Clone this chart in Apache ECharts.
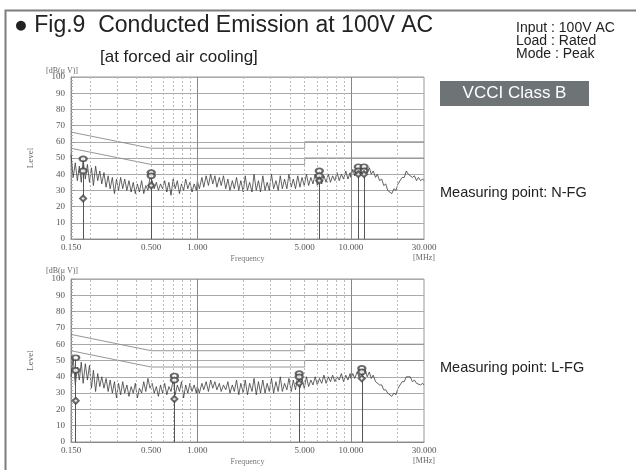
<!DOCTYPE html>
<html>
<head>
<meta charset="utf-8">
<script src="https://cdn.jsdelivr.net/npm/echarts@6/dist/echarts.min.js"></script>
<style>
html, body { margin: 0; padding: 0; background: #fff; }
#main { width: 636px; height: 470px; }
</style>
</head>
<body>
<div id="main"></div>
<script>
// sample frequencies [MHz]
var freqs = [
    0.150, 0.155, 0.160, 0.165, 0.170, 0.175, 0.180, 0.186, 0.192, 0.198,
    0.204, 0.210, 0.217, 0.224, 0.231, 0.238, 0.246, 0.254, 0.262, 0.270,
    0.279, 0.288, 0.297, 0.306, 0.316, 0.326, 0.336, 0.347, 0.358, 0.370,
    0.382, 0.394, 0.406, 0.419, 0.433, 0.447, 0.461, 0.476, 0.491, 0.507,
    0.523, 0.540, 0.557, 0.575, 0.593, 0.612, 0.632, 0.652, 0.673, 0.695,
    0.717, 0.740, 0.764, 0.788, 0.813, 0.839, 0.866, 0.894, 0.923, 0.953,
    0.984,
    1.00, 1.03, 1.07, 1.10, 1.14, 1.18, 1.22, 1.26, 1.30, 1.34,
    1.39, 1.43, 1.48, 1.53, 1.58, 1.63, 1.69, 1.74, 1.80, 1.86,
    1.92, 1.99, 2.05, 2.12, 2.19, 2.27, 2.34, 2.42, 2.50, 2.58,
    2.67, 2.76, 2.85, 2.94, 3.04, 3.14, 3.25, 3.36, 3.47, 3.58,
    3.70, 3.83, 3.95, 4.09, 4.22, 4.36, 4.51, 4.66, 4.81, 4.97,
    5.14, 5.31, 5.49, 5.67, 5.86, 6.05, 6.25, 6.46, 6.68, 6.90,
    7.13, 7.37, 7.61, 7.87, 8.13, 8.40, 8.68, 8.97, 9.27, 9.58,
    9.90,
    10.0, 10.3, 10.6, 11.0, 11.3, 11.7, 12.0, 12.4, 12.8, 13.2,
    13.6, 14.0, 14.5, 14.9, 15.4, 15.9, 16.4, 16.9, 17.4, 17.9,
    18.5, 19.1, 19.7, 20.3, 20.9, 21.6, 22.3, 23.0, 23.7, 24.4,
    25.2, 26.0, 26.8, 27.6, 28.5, 29.4, 30.0
];

// measured level N-FG [dB(uV)]
var levelNFG = [
    52, 38, 47, 36, 45, 35, 49, 37, 46, 35,
    44, 33, 45, 36, 42, 34, 41, 32, 39, 31,
    38, 28, 37, 30, 38, 31, 37, 30, 36, 29,
    35, 28, 34, 29, 36, 28, 33, 30, 38, 36,
    31, 35, 30, 34, 31, 36, 29, 35, 27, 37,
    31, 36, 28, 34, 30, 37, 31, 35, 29, 34,
    30,
    36, 31, 38, 32, 39, 33, 40, 34, 39, 32,
    38, 33, 39, 31, 37, 30, 36, 31, 38, 30,
    36, 29, 39, 30, 35, 29, 40, 30, 36, 29,
    39, 30, 35, 30, 40, 31, 36, 30, 39, 31,
    37, 31, 40, 32, 37, 31, 39, 32, 38, 33,
    40, 33, 38, 34, 40, 33, 41, 34, 39, 35,
    40, 35, 39, 36, 41, 36, 40, 37, 42, 37,
    41,
    38, 43, 39, 44, 39, 44, 40, 45, 41, 44,
    40, 42, 38, 40, 36, 37, 33, 34, 30, 31,
    28, 31, 30, 34, 34, 38, 38, 42, 40, 41,
    38, 39, 36, 38, 36, 37, 36
];

// measured level L-FG [dB(uV)]
var levelLFG = [
    40, 52, 35, 46, 38, 49, 36, 48, 38, 47,
    33, 44, 31, 42, 34, 40, 33, 39, 31, 38,
    30, 37, 27, 36, 29, 37, 30, 35, 28, 34,
    30, 36, 27, 33, 30, 37, 31, 39, 33, 36,
    30, 34, 28, 35, 30, 36, 29, 34, 31, 38,
    29, 35, 31, 37, 27, 35, 30, 36, 31, 35,
    30,
    34, 30, 36, 32, 37, 31, 38, 33, 37, 32,
    36, 31, 35, 32, 37, 30, 35, 31, 38, 29,
    36, 30, 38, 29, 36, 31, 39, 29, 37, 30,
    38, 30, 36, 31, 39, 30, 37, 31, 40, 31,
    36, 32, 39, 31, 38, 32, 41, 33, 39, 33,
    40, 34, 38, 35, 40, 35, 39, 36, 41, 36,
    40, 37, 41, 37, 40, 38, 42, 37, 41, 38,
    42,
    39, 42, 39, 43, 40, 44, 41, 44, 40, 43,
    39, 41, 37, 38, 35, 35, 32, 32, 30, 29,
    28, 30, 29, 33, 33, 37, 37, 40, 39, 40,
    37, 38, 36, 37, 35, 36, 35
];

// VCCI Class B limits
var limitFreq = [0.15, 0.5, 5, 5, 30];
var limitQP = [66, 56, 56, 60, 60];
var limitAV = [56, 46, 46, 50, 50];

// marker readings N-FG
var markFreqN = [0.180, 0.500, 6.23, 11.2, 12.2];
var markPkN = [49.5, 41, 42, 44.6, 44.6];
var markQpN = [42, 39, 39, 42, 42];
var markAvN = [25, 33, 36, 40, 40];

// marker readings L-FG
var markFreqL = [0.161, 0.708, 4.61, 11.8];
var markPkL = [51.7, 40.5, 42, 45.2];
var markQpL = [44, 38, 40, 43];
var markAvL = [25.3, 26.4, 36, 39];

var xTickValues = [0.15, 0.5, 1, 5, 10, 30];
var gridMinorFreq = [0.2, 0.3, 0.4, 0.5, 0.6, 0.7, 0.8, 0.9, 2, 3, 4, 5, 6, 7, 8, 9, 20];
var gridMajorFreq = [1, 10];

var serif = "'Liberation Serif', 'DejaVu Serif', serif";
var sans = "'Liberation Sans', Arial, sans-serif";

function pairs(xs, ys) {
    return xs.map(function (x, i) { return [x, ys[i]]; });
}

function panelSeries(gi, levels, mf, mpk, mqp, mav) {
    var gridLines = gridMinorFreq.map(function (f) {
        return { xAxis: f, lineStyle: { color: '#bbb', type: [2, 2], width: 1 } };
    }).concat(gridMajorFreq.map(function (f) {
        return { xAxis: f, lineStyle: { color: '#888', type: 'solid', width: 1 } };
    }));
    var stems = mf.map(function (f, i) {
        return [{ coord: [f, mpk[i]] }, { coord: [f, 0] }];
    });
    var limitStyle = { color: '#8a8a8a', width: 0.9 };
    return [
        {
            type: 'line', xAxisIndex: gi, yAxisIndex: gi, z: 1, silent: true,
            data: pairs(limitFreq, limitQP), showSymbol: false, lineStyle: limitStyle,
            markLine: { silent: true, symbol: 'none', label: { show: false }, data: gridLines }
        },
        {
            type: 'line', xAxisIndex: gi, yAxisIndex: gi, z: 1, silent: true,
            data: pairs(limitFreq, limitAV), showSymbol: false, lineStyle: limitStyle
        },
        {
            type: 'line', xAxisIndex: gi, yAxisIndex: gi, z: 3,
            data: pairs(freqs, levels), showSymbol: false,
            lineStyle: { color: '#3c3c3c', width: 0.8 }
        },
        {
            type: 'scatter', xAxisIndex: gi, yAxisIndex: gi, z: 5,
            data: pairs(mf, mpk), symbol: 'emptyCircle', symbolSize: [7, 5],
            itemStyle: { color: '#444', borderWidth: 1 },
            markLine: {
                silent: true, symbol: 'none', label: { show: false },
                lineStyle: { color: '#555', width: 1, type: 'solid' }, data: stems
            }
        },
        {
            type: 'scatter', xAxisIndex: gi, yAxisIndex: gi, z: 5,
            data: pairs(mf, mqp), symbol: 'emptyCircle', symbolSize: [7, 5],
            itemStyle: { color: '#444', borderWidth: 1 }
        },
        {
            type: 'scatter', xAxisIndex: gi, yAxisIndex: gi, z: 5,
            data: pairs(mf, mav), symbol: 'emptyDiamond', symbolSize: 6,
            itemStyle: { color: '#444', borderWidth: 1 }
        }
    ];
}

function xAxisFor(gi) {
    return {
        type: 'log', logBase: 10, gridIndex: gi, min: 0.15, max: 30,
        axisLine: { show: true, lineStyle: { color: '#888' } },
        axisTick: { show: false },
        splitLine: { show: false },
        axisLabel: {
            customValues: xTickValues, showMinLabel: true, showMaxLabel: true,
            formatter: function (v) { return Number(v).toFixed(3); },
            fontFamily: serif, fontSize: 9, color: '#555', margin: 4
        },
        name: 'Frequency', nameLocation: 'middle', nameGap: 16,
        nameTextStyle: { fontFamily: serif, fontSize: 8, color: '#777' }
    };
}

function yAxisFor(gi) {
    return {
        type: 'value', gridIndex: gi, min: 0, max: 100, interval: 10,
        axisLine: { show: true, lineStyle: { color: '#888' } },
        axisTick: { show: true, inside: true, length: 4, lineStyle: { color: '#999' } },
        minorTick: { show: true, splitNumber: 5, length: 2, lineStyle: { color: '#aaa' } },
        splitLine: { show: true, lineStyle: { color: '#aaa', width: 1 } },
        axisLabel: { fontFamily: serif, fontSize: 9, color: '#555', margin: 6 },
        name: 'Level', nameLocation: 'middle', nameGap: 36, nameRotate: 90,
        nameTextStyle: { fontFamily: serif, fontSize: 9, color: '#666' }
    };
}

var myChart = echarts.init(document.getElementById('main'), null, { renderer: 'canvas' });

var option = {
    animation: false,
    backgroundColor: '#fff',
    title: [
        {
            text: '\u25CF Fig.9  Conducted Emission at 100V AC', left: 14, top: 14, padding: 0,
            textStyle: { fontFamily: sans, fontSize: 23, fontWeight: 'normal', color: '#222' }
        },
        {
            text: '[at forced air cooling]', left: 100, top: 49, padding: 0,
            textStyle: { fontFamily: sans, fontSize: 17, fontWeight: 'normal', color: '#222' }
        },
        {
            text: 'Input : 100V AC\nLoad : Rated\nMode : Peak', left: 516, top: 22, padding: 0,
            textStyle: {
                fontFamily: "'Liberation Sans Narrow', 'Arial Narrow', sans-serif",
                fontSize: 14, lineHeight: 13, fontWeight: 'normal', color: '#222'
            }
        }
    ],
    grid: [
        { left: 71, top: 77, width: 353, height: 162, show: true, borderColor: '#999', borderWidth: 1 },
        { left: 71, top: 279, width: 353, height: 163, show: true, borderColor: '#999', borderWidth: 1 }
    ],
    xAxis: [xAxisFor(0), xAxisFor(1)],
    yAxis: [yAxisFor(0), yAxisFor(1)],
    series: panelSeries(0, levelNFG, markFreqN, markPkN, markQpN, markAvN)
        .concat(panelSeries(1, levelLFG, markFreqL, markPkL, markQpL, markAvL)),
    graphic: [
        {
            type: 'rect', left: 3, top: 8, silent: true,
            shape: { width: 660, height: 480 },
            style: { fill: 'none', stroke: '#7d7d7d', lineWidth: 2 }
        },
        {
            type: 'group', left: 440, top: 81,
            children: [
                { type: 'rect', shape: { width: 149, height: 25 }, style: { fill: '#6e7376' } },
                {
                    type: 'text', x: 74.5, y: 12.5,
                    style: { text: 'VCCI Class B', fill: '#fff', font: '17px ' + sans, align: 'center', verticalAlign: 'middle' }
                }
            ]
        },
        {
            type: 'text', x: 440, y: 193,
            style: { text: 'Measuring point: N-FG', fill: '#222', font: '14.5px ' + sans, verticalAlign: 'middle' }
        },
        {
            type: 'text', x: 440, y: 368,
            style: { text: 'Measuring point: L-FG', fill: '#222', font: '14.5px ' + sans, verticalAlign: 'middle' }
        },
        {
            type: 'text', x: 62, y: 71,
            style: { text: '[dB(\u03BC V)]', fill: '#666', font: '8px ' + serif, align: 'center', verticalAlign: 'middle' }
        },
        {
            type: 'text', x: 62, y: 271,
            style: { text: '[dB(\u03BC V)]', fill: '#666', font: '8px ' + serif, align: 'center', verticalAlign: 'middle' }
        },
        {
            type: 'text', x: 424, y: 258,
            style: { text: '[MHz]', fill: '#666', font: '8px ' + serif, align: 'center', verticalAlign: 'middle' }
        },
        {
            type: 'text', x: 424, y: 461,
            style: { text: '[MHz]', fill: '#666', font: '8px ' + serif, align: 'center', verticalAlign: 'middle' }
        }
    ]
};

myChart.setOption(option);
</script>
</body>
</html>
